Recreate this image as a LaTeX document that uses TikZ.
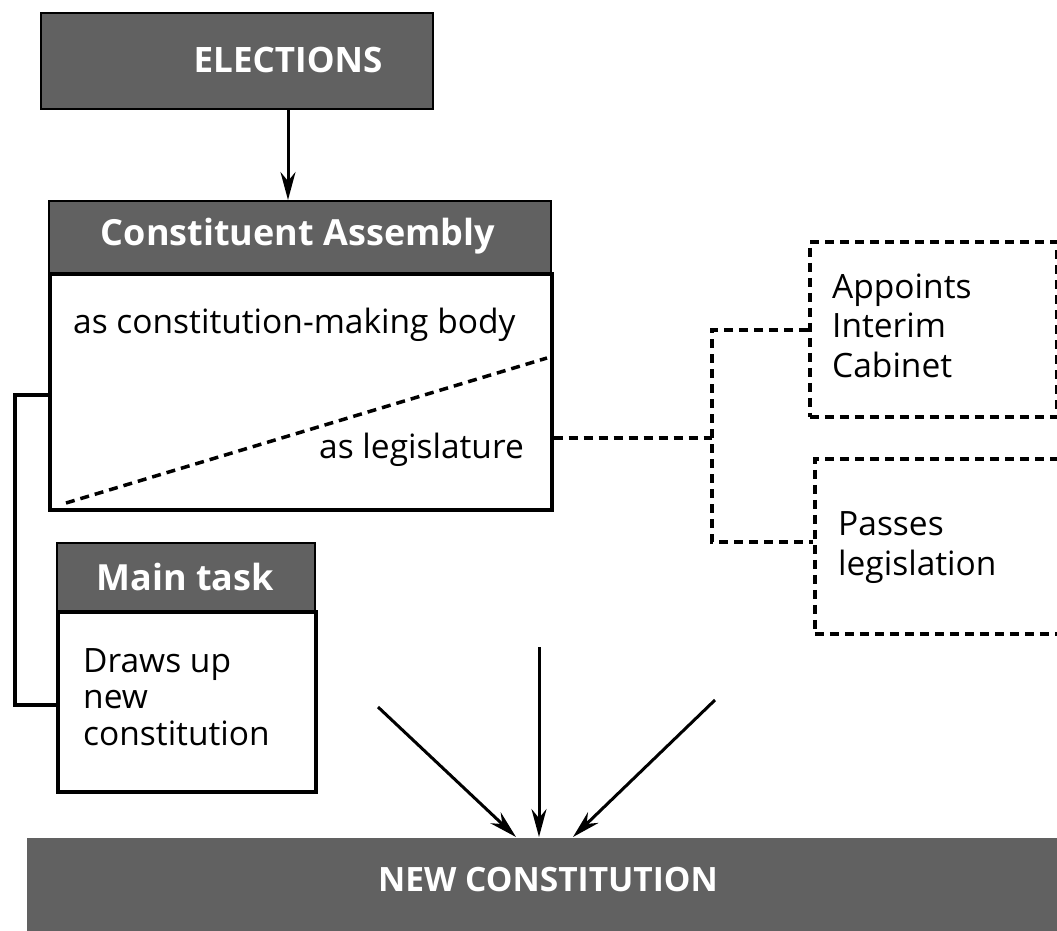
\documentclass[tikz,border=0pt]{standalone}
\usepackage{fontspec}
\setmainfont{Open Sans}
\usetikzlibrary{arrows.meta}
\definecolor{hdrgray}{gray}{0.38}
\begin{document}
\begin{tikzpicture}[x=1pt,y=-1pt,
  hdr/.style={fill=hdrgray, draw=black, line width=2pt, anchor=north west, inner sep=0pt},
  hdrtext/.style={text=white, font=\bfseries\fontsize{36}{40}\selectfont, inner sep=0pt},
  bodybox/.style={draw=black, line width=3.5pt, fill=white, anchor=north west, inner sep=0pt},
  dashbox/.style={draw=black, line width=3.5pt, dash pattern=on 9pt off 6pt, anchor=north west, inner sep=0pt},
  dsh/.style={draw=black, line width=3.5pt, dash pattern=on 9pt off 6pt},
  body/.style={font=\fontsize{33.5}{39.5}\selectfont, text=black, inner sep=0pt, align=left},
  arr/.style={draw=black, line width=3pt, -{Stealth[length=28pt,width=15pt]}}
]
\useasboundingbox (0,0) rectangle (1057,930);
\clip (0,0) rectangle (1057,930);
\fill[white] (0,0) rectangle (1057,930);

% ELECTIONS
\node[hdr, minimum width=392pt, minimum height=96pt] (elect) at (40,12) {};
\node[hdrtext, font=\bfseries\fontsize{35}{40}\selectfont] (electT) at (288,60) {ELECTIONS};

% Constituent Assembly
\node[hdr, minimum width=502pt, minimum height=72pt] (cahdr) at (48,200) {};
\node[hdrtext] (cahdrT) at (298,236) {Constituent Assembly};
\node[bodybox, minimum width=502pt, minimum height=236pt] (cabody) at (48,272) {};
\node[body, anchor=base west] (cmb) at (73,333) {as constitution-making body};
\node[body, anchor=base west] (leg) at (319,458) {as legislature};
\coordinate (dgA) at (66,503);
\coordinate (dgB) at (547,358);
\draw[dsh] (dgA) -- (dgB);

\draw[arr] (elect.south -| electT) -- (cahdr.north -| electT);

% Main task
\node[hdr, minimum width=258pt, minimum height=68pt] (mthdr) at (56,542) {};
\node[hdrtext] (mthdrT) at (185,577) {Main task};
\node[bodybox, minimum width=258pt, minimum height=180pt] (mtbody) at (56,610) {};
\node[body, font=\fontsize{33.5}{36.5}\selectfont, anchor=base west] (draws) at (83,745) {Draws up\\new\\constitution};

% bracket
\coordinate (brtop) at (15,395);
\coordinate (brbot) at (15,705);
\draw[line width=3.5pt, line join=miter] (cabody.west |- brtop) -- (brtop) -- (brbot) -- (mtbody.west |- brbot);

% right dashed boxes
\node[dashbox, minimum width=247pt, minimum height=175pt] (appt) at (808,240) {};
\node[body, anchor=base west] (apptT) at (832,377) {Appoints\\Interim\\Cabinet};
\node[dashbox, minimum width=252pt, minimum height=175pt] (pass) at (813,457) {};
\node[body, anchor=base west] (passT) at (838,575) {Passes\\legislation};

\coordinate (j1) at (712,438);
\coordinate (j2) at (712,330);
\coordinate (j3) at (712,542);
\draw[dsh] (cabody.east |- j1) -- (j1);
\draw[dsh] (appt.west |- j2) -- (j2) -- (j3) -- (pass.west |- j3);

% NEW CONSTITUTION
\node[hdr, minimum width=1050pt, minimum height=110pt, draw=none] (newc) at (26,837) {};
\node[hdrtext, font=\bfseries\fontsize{33.5}{38}\selectfont] (newcT) at (548,880) {NEW CONSTITUTION};

\coordinate (aL) at (378,707);
\coordinate (aM) at (539,647);
\coordinate (aR) at (715,700);
\draw[arr] (aL) -- (newc.north -| 516,0);
\draw[arr] (aM) -- (newc.north -| aM);
\draw[arr] (aR) -- (newc.north -| 573,0);
\end{tikzpicture}
\end{document}
